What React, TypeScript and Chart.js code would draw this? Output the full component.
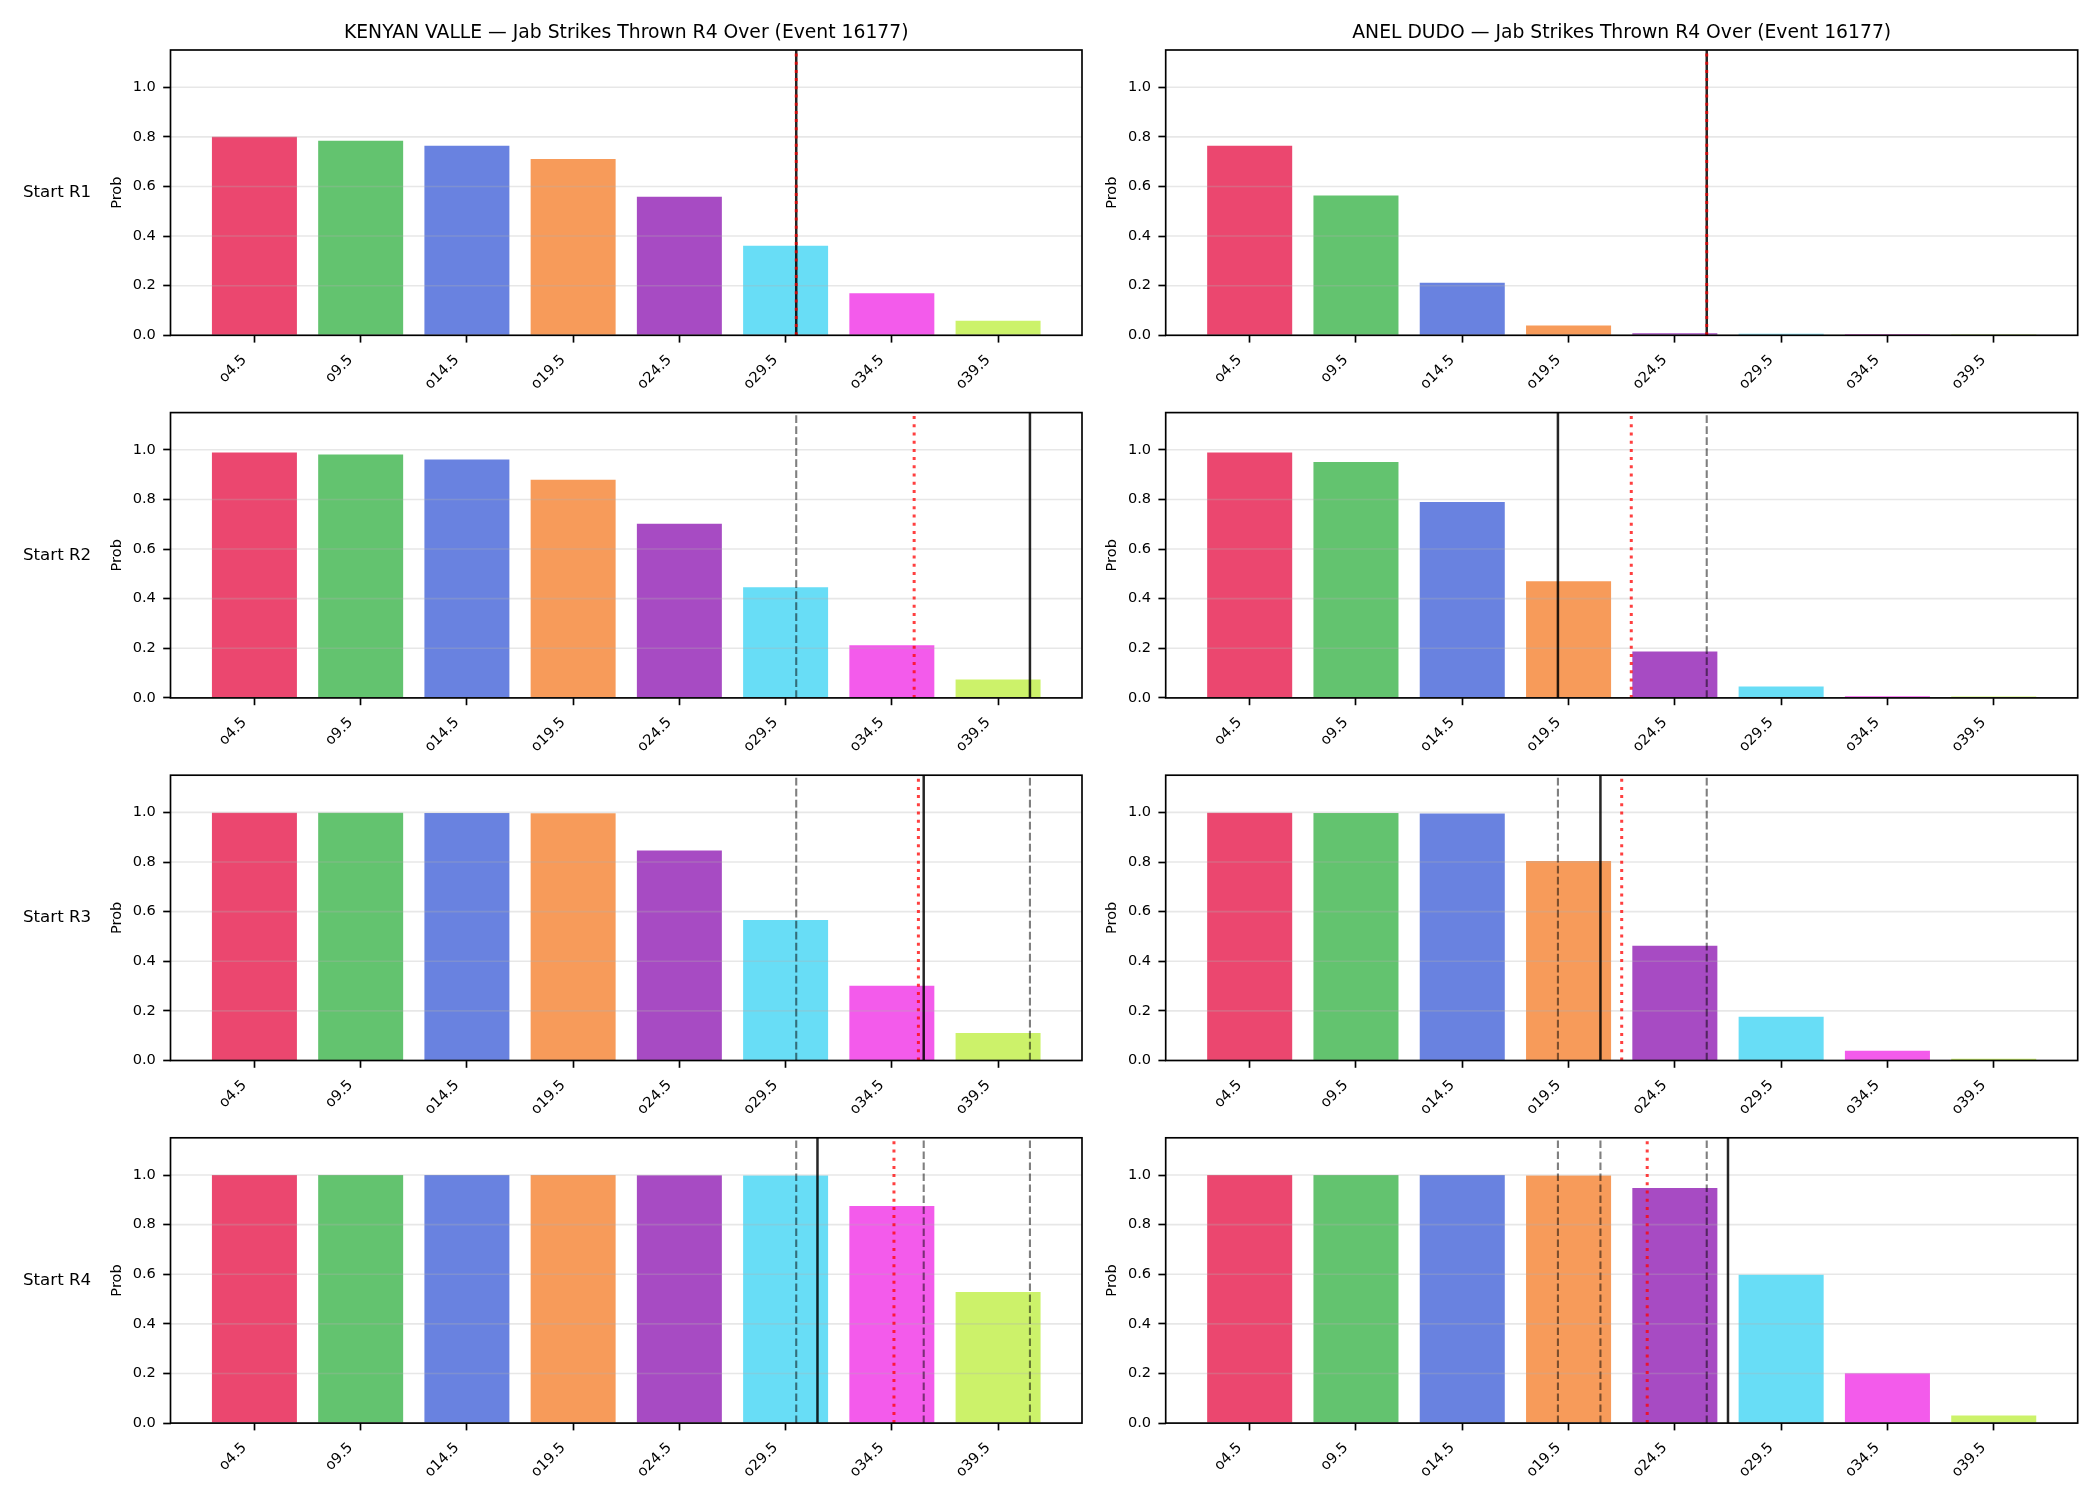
import React, { useEffect, useRef } from 'react';
import { Chart, registerables } from 'chart.js';

Chart.register(...registerables);
Chart.defaults.font.family = "'DejaVu Sans', sans-serif";

// ---------------- data ----------------
const categories = ['o4.5', 'o9.5', 'o14.5', 'o19.5', 'o24.5', 'o29.5', 'o34.5', 'o39.5'];
const categoryStart = 4.5;
const categoryStep = 5;
const rowLabels = ['Start R1', 'Start R2', 'Start R3', 'Start R4'];
const panelTitles = [
  'KENYAN VALLE — Jab Strikes Thrown R4 Over (Event 16177)',
  'ANEL DUDO — Jab Strikes Thrown R4 Over (Event 16177)',
];

const valleR1 = [0.800, 0.784, 0.764, 0.711, 0.558, 0.361, 0.169, 0.059];
const valleR2 = [0.989, 0.981, 0.961, 0.879, 0.702, 0.446, 0.212, 0.074];
const valleR3 = [0.999, 0.999, 0.998, 0.997, 0.846, 0.566, 0.301, 0.111];
const valleR4 = [1.0, 1.0, 1.0, 1.0, 0.999, 0.998, 0.875, 0.528];

const dudoR1 = [0.764, 0.564, 0.212, 0.040, 0.008, 0.006, 0.005, 0.004];
const dudoR2 = [0.989, 0.951, 0.790, 0.470, 0.187, 0.046, 0.007, 0.006];
const dudoR3 = [0.999, 0.998, 0.996, 0.804, 0.463, 0.176, 0.039, 0.007];
const dudoR4 = [1.0, 1.0, 1.0, 0.998, 0.9475, 0.598, 0.2005, 0.031];

// projected totals (black solid) and mean (red dotted), per starting round
const valleProjection = [30, 41, 36, 31];
const valleMean = [30, 35.55, 35.75, 34.6];
const dudoProjection = [26, 19, 21, 27];
const dudoMean = [26, 22.45, 22.0, 23.2];

const yTickValues = [0, 0.2, 0.4, 0.6, 0.8, 1.0];

const barColors = [
  'rgba(230,25,75,0.8)',
  'rgba(60,180,75,0.8)',
  'rgba(67,99,216,0.8)',
  'rgba(245,130,49,0.8)',
  'rgba(145,30,180,0.8)',
  'rgba(66,212,244,0.8)',
  'rgba(240,50,230,0.8)',
  'rgba(191,239,69,0.8)',
];

const probs = [
  [valleR1, valleR2, valleR3, valleR4],
  [dudoR1, dudoR2, dudoR3, dudoR4],
];
const projections = [valleProjection, dudoProjection];
const means = [valleMean, dudoMean];

// ---------------- layout ----------------
const ROW_STEP = 362.6;
const AXES_TOP0 = 50;
const AXES_H = 285.3;
const CANVAS_H = 410;
const COL_X = [0, 1100];
const COL_W = [1100, 1000];
const AXES_LEFT = [170.5, 65.7];
const AXES_RIGHT = [1082, 977.7];
const Y_W = 64;
const X_H = 62;
const TICK_FONT = 14.58;

function toIndex(v: number) {
  return (v - categoryStart) / categoryStep;
}

function Panel({ col, row }: { col: number; row: number }) {
  const ref = useRef<HTMLCanvasElement | null>(null);
  const axesTop = AXES_TOP0 + ROW_STEP * row;
  const canvasTop = Math.round(axesTop - AXES_TOP0);
  const w = COL_W[col];
  const h = Math.min(CANVAS_H, 1500 - canvasTop);

  useEffect(() => {
    const values = probs[col][row];
    const topPad = axesTop - canvasTop;
    const bottomEdge = topPad + AXES_H;
    const padBottom = h - bottomEdge - X_H;

    const black = projections[col][row];
    const red = means[col][row];
    const previous = projections[col].slice(0, row);

    const overlay = {
      id: 'overlay',
      afterDatasetsDraw(chart: any) {
        const { ctx, chartArea: a } = chart;
        const x = chart.scales.x;
        const y = chart.scales.y;

        // horizontal grid above the bars (matplotlib axisbelow='line')
        ctx.save();
        ctx.strokeStyle = 'rgba(176,176,176,0.3)';
        ctx.lineWidth = 1.6;
        yTickValues.forEach((t) => {
          const py = y.getPixelForValue(t);
          ctx.beginPath();
          ctx.moveTo(a.left, py);
          ctx.lineTo(a.right, py);
          ctx.stroke();
        });
        ctx.restore();

        const vline = (v: number, color: string, lw: number, dash: number[]) => {
          const px = x.getPixelForValue(toIndex(v));
          ctx.save();
          ctx.beginPath();
          ctx.strokeStyle = color;
          ctx.lineWidth = lw;
          ctx.lineCap = 'butt';
          ctx.setLineDash(dash);
          ctx.moveTo(px, a.bottom);
          ctx.lineTo(px, a.top);
          ctx.stroke();
          ctx.restore();
        };
        previous.forEach((v) => vline(v, 'rgba(0,0,0,0.5)', 2.1, [7.7, 3.3]));
        vline(black, 'rgba(0,0,0,0.85)', 2.5, []);
        vline(red, 'rgba(255,0,0,0.75)', 3, [3, 5.2]);

        ctx.save();
        ctx.strokeStyle = '#000';
        ctx.lineWidth = 1.67;
        ctx.strokeRect(a.left, a.top, a.right - a.left, a.bottom - a.top);
        ctx.fillStyle = '#000';
        if (row === 0) {
          ctx.font = "18.75px 'DejaVu Sans'";
          ctx.textAlign = 'center';
          ctx.textBaseline = 'alphabetic';
          ctx.fillText(panelTitles[col], (a.left + a.right) / 2, a.top - 11.7);
        }
        if (col === 0) {
          ctx.font = "16.67px 'DejaVu Sans'";
          ctx.textAlign = 'left';
          ctx.textBaseline = 'middle';
          ctx.fillText(rowLabels[row], 23, (a.top + a.bottom) / 2);
        }
        ctx.restore();
      },
    };

    const chart = new Chart(ref.current as HTMLCanvasElement, {
      type: 'bar',
      data: {
        datasets: [
          {
            data: values.map((v, i) => ({ x: i, y: v })),
            backgroundColor: barColors,
            borderWidth: 0,
            categoryPercentage: 1,
            barPercentage: 0.8,
          } as any,
        ],
      },
      options: {
        animation: false,
        responsive: false,
        devicePixelRatio: 1,
        events: [],
        layout: {
          padding: {
            left: AXES_LEFT[col] - Y_W,
            right: w - AXES_RIGHT[col],
            top: topPad,
            bottom: padBottom,
          },
        },
        plugins: { legend: { display: false }, tooltip: { enabled: false }, title: { display: false } },
        scales: {
          x: {
            type: 'linear',
            offset: false,
            min: -0.79,
            max: 7.79,
            afterBuildTicks: (s: any) => {
              s.ticks = categories.map((_, i) => ({ value: i }));
            },
            afterFit: (s: any) => {
              s.height = X_H;
            },
            ticks: {
              autoSkip: false,
              minRotation: 45,
              maxRotation: 45,
              padding: 9,
              labelOffset: -10,
              color: '#000',
              font: { size: TICK_FONT },
              callback: (v: any) => categories[Math.round(Number(v))] ?? '',
            },
            grid: {
              offset: false,
              drawOnChartArea: false,
              drawTicks: true,
              tickLength: 7.3,
              tickColor: '#000',
              tickWidth: 1.67,
            },
            border: { display: false },
          },
          y: {
            type: 'linear',
            min: 0,
            max: 1.15,
            afterBuildTicks: (s: any) => {
              s.ticks = yTickValues.map((v) => ({ value: v }));
            },
            afterFit: (s: any) => {
              s.width = Y_W;
            },
            ticks: {
              padding: 7.3,
              color: '#000',
              font: { size: TICK_FONT },
              callback: (v: any) => Number(v).toFixed(1),
            },
            grid: {
              drawOnChartArea: false,
              drawTicks: true,
              tickLength: 7.3,
              tickColor: '#000',
              tickWidth: 1.67,
            },
            border: { display: false },
            title: {
              display: true,
              text: 'Prob',
              color: '#000',
              font: { size: TICK_FONT },
              padding: { top: 1.5, bottom: 0 },
            },
          },
        },
      } as any,
      plugins: [overlay],
    });
    return () => chart.destroy();
  }, []);

  return (
    <canvas
      ref={ref}
      width={w}
      height={h}
      style={{ position: 'absolute', left: COL_X[col] + 'px', top: canvasTop + 'px', width: w + 'px', height: h + 'px' }}
    />
  );
}

export default function App() {
  const panels = [];
  for (let r = 0; r < 4; r++) {
    for (let c = 0; c < 2; c++) {
      panels.push(<Panel key={`${r}-${c}`} col={c} row={r} />);
    }
  }
  return (
    <div style={{ position: 'absolute', left: 0, top: 0, width: '2100px', height: '1500px', background: '#fff', overflow: 'hidden' }}>
      {panels}
    </div>
  );
}
